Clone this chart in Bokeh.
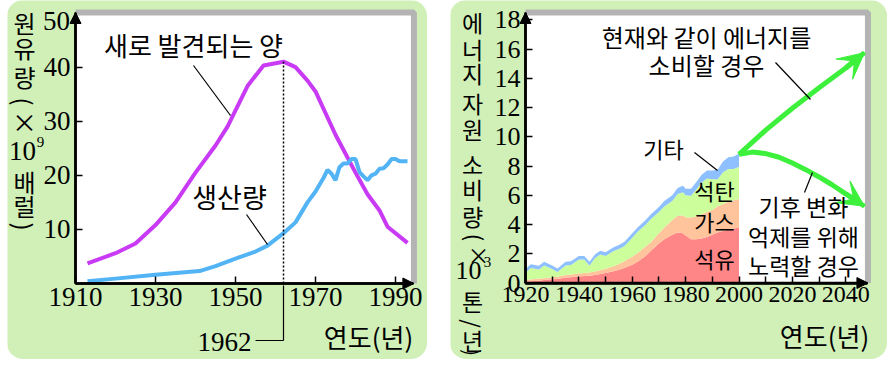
import math
from bokeh.plotting import figure
from bokeh.models import (ColumnDataSource, FixedTicker, Label, Arrow, NormalHead,
                          VeeHead, Range1d)
from bokeh.layouts import row
from bokeh.embed import file_html
from bokeh.resources import INLINE

# ---------------- data: left panel (crude oil, x10^9 barrels) ----------------
disc_years = [1913, 1920, 1925, 1930, 1935, 1940, 1945, 1948, 1950, 1953, 1957,
              1962, 1965, 1968, 1970, 1975, 1980, 1983, 1986, 1988, 1993]
disc_vals = [3.7, 5.6, 7.4, 10.8, 15.0, 20.5, 25.5, 29.0, 32.0, 36.5, 40.3,
             41.0, 40.0, 37.5, 35.5, 27.5, 20.5, 16.5, 13.5, 10.5, 7.5]
prod_years = [1913, 1920, 1930, 1941, 1945, 1950, 1955, 1958, 1962, 1965, 1968,
              1970, 1972, 1973, 1974, 1975, 1976, 1977, 1978, 1979, 1980, 1981,
              1982, 1983, 1984, 1985, 1986, 1987, 1988, 1989, 1990, 1991, 1992, 1993]
prod_vals = [0.4, 0.9, 1.6, 2.3, 3.2, 4.6, 5.9, 7.0, 9.3, 11.3, 15.0,
             17.0, 19.5, 21.0, 20.3, 19.1, 21.5, 22.2, 22.2, 23.0, 23.0, 20.6,
             19.8, 19.1, 20.0, 20.3, 21.2, 21.3, 22.0, 23.0, 23.0, 22.6, 22.6, 22.6]
peak_year = 1962
left_xticks = [1910, 1930, 1950, 1970, 1990]
left_yticks = [10, 20, 30, 40]
left_ytop_label = "50"

# ---------------- data: right panel (energy use, x10^3 t/yr) ----------------
e_years = [1920, 1922, 1925, 1927, 1930, 1932, 1935, 1937, 1940, 1942, 1944, 1946,
           1948, 1950, 1953, 1955, 1957, 1960, 1962, 1965, 1967, 1970, 1972, 1975,
           1977, 1979, 1980, 1982, 1984, 1986, 1988, 1990, 1992, 1994, 1996, 1998, 2000]
oil = [0.10, 0.12, 0.16, 0.20, 0.25, 0.27, 0.38, 0.40, 0.45, 0.48, 0.50, 0.55,
       0.62, 0.68, 0.80, 0.90, 1.02, 1.25, 1.45, 1.85, 2.20, 2.70, 3.00, 3.30,
       3.45, 3.40, 3.25, 3.00, 3.00, 3.05, 3.15, 3.30, 3.45, 3.55, 3.65, 3.72, 3.80]
gas = [0.10, 0.12, 0.14, 0.13, 0.15, 0.15, 0.17, 0.18, 0.20, 0.20, 0.22, 0.23,
       0.26, 0.29, 0.35, 0.40, 0.46, 0.55, 0.60, 0.65, 0.60, 0.70, 0.80, 1.00,
       1.15, 1.22, 1.25, 1.48, 1.55, 1.65, 1.70, 1.70, 1.80, 1.85, 1.90, 1.93, 1.95]
coal = [0.50, 0.79, 0.63, 0.87, 0.55, 0.33, 0.65, 0.65, 0.95, 0.92, 0.48, 0.92,
        1.07, 0.88, 1.03, 1.02, 1.04, 1.30, 1.45, 1.48, 1.57, 1.45, 1.43, 1.30,
        1.48, 1.59, 1.50, 1.49, 1.85, 2.18, 2.30, 2.10, 1.85, 2.18, 2.25, 2.15, 2.20]
other = [0.25, 0.25, 0.25, 0.25, 0.25, 0.25, 0.25, 0.25, 0.25, 0.25, 0.25, 0.25,
         0.25, 0.25, 0.27, 0.28, 0.28, 0.30, 0.30, 0.32, 0.33, 0.35, 0.37, 0.40,
         0.42, 0.44, 0.45, 0.48, 0.50, 0.52, 0.55, 0.60, 0.65, 0.72, 0.80, 0.85, 0.90]
proj_high_years = [2000, 2010, 2020, 2030, 2040, 2047]
proj_high = [8.8, 10.45, 11.95, 13.35, 14.7, 15.75]
proj_low_years = [2000, 2005, 2010, 2015, 2020, 2025, 2030, 2035, 2040, 2047]
proj_low = [8.8, 8.95, 8.85, 8.6, 8.2, 7.75, 7.25, 6.7, 6.1, 5.25]
right_xticks = [1920, 1940, 1960, 1980, 2000, 2020, 2040]
right_xminor = [1930, 1950, 1970, 1990, 2010, 2030]
right_yticks = [0, 2, 4, 6, 8, 10, 12, 14, 16, 18]

# ---------------- style ----------------
PANEL = "#d0f0b8"
PURPLE = "#c93af5"
BLUE = "#52b4f5"
C_OIL, C_GAS, C_COAL, C_OTHER = "#ff8686", "#ffc49c", "#ccff9c", "#8ec0ff"
GREEN = "#3cf03c"
SHADOW = "#b4b4b4"
KR = "Noto Sans CJK KR"
SERIF = "Liberation Serif"

# page geometry (observed origin of the layout on the page)
PAGE_Y0 = 3
H = 359
L_PX0, L_MARGIN, L_W = 10, 7, 420
GAP = 23
R_PX0, R_W = L_PX0 + L_W + GAP, 437
# page pixel of each origin and pixels per unit
L_ORG, L_SX, L_SY = (78, 286), 4.0, 5.41
R_ORG, R_SX, R_SY = (528, 285.5), 2.669, 14.625
L_XLIM, L_YLIM = (1910, 1994.6), (0, 50.1)
R_XLIM, R_YLIM = (1920, 2048.3), (0, 18.5)


def ranges(px0, w, org, sx, sy, x0, y0):
    xr = (x0 - (org[0] - px0) / sx, x0 + (px0 + w - org[0]) / sx)
    yr = (y0 - (PAGE_Y0 + H - org[1]) / sy, y0 + (org[1] - PAGE_Y0) / sy)
    return xr, yr


def make_mapper(org, sx, sy, x0, y0):
    def m(px, py):
        return x0 + (px - org[0]) / sx, y0 + (org[1] - py) / sy
    return m


def make_fig(w, xr, yr, xlim, ylim, xt, yt, xminor=None, xfs="27px", yfs="27px",
             margin=None):
    p = figure(width=w, height=H, x_range=Range1d(*xr), y_range=Range1d(*yr),
               output_backend="svg", toolbar_location=None, title=None,
               min_border=0)
    if margin is not None:
        p.margin = margin
    p.border_fill_color = PANEL
    p.background_fill_color = PANEL
    p.outline_line_color = None
    p.grid.grid_line_color = None
    # white plot area with a grey shadow on its top and right edges
    p.quad(left=[xlim[0]], right=[xlim[1]], bottom=[ylim[0]], top=[ylim[1]],
           fill_color="white", line_color=None)
    p.line([xlim[0], xlim[1], xlim[1]], [ylim[1], ylim[1], ylim[0]],
           line_color=SHADOW, line_width=6)
    p.xaxis.fixed_location = ylim[0]
    p.yaxis.fixed_location = xlim[0]
    p.xaxis.bounds = xlim
    p.yaxis.bounds = ylim
    p.xaxis.ticker = FixedTicker(ticks=xt, minor_ticks=xminor or [])
    p.yaxis.ticker = FixedTicker(ticks=yt)
    for ax, fs in ((p.xaxis, xfs), (p.yaxis, yfs)):
        ax.axis_line_width = 2.5
        ax.axis_line_color = "black"
        ax.major_tick_in = 7
        ax.major_tick_out = 0
        ax.major_tick_line_width = 1.5
        ax.minor_tick_in = 7
        ax.minor_tick_out = 0
        ax.minor_tick_line_width = 1.5
        ax.major_label_text_font = SERIF
        ax.major_label_text_font_size = fs
        ax.major_label_text_color = "black"
    p.xaxis.major_label_standoff = 4
    p.yaxis.major_label_standoff = 5
    if not xminor:
        p.xaxis.minor_tick_line_color = None
    p.yaxis.minor_tick_line_color = None
    for (xs, ys, xe, ye) in ((xlim[0], ylim[0], xlim[0], ylim[1]),
                             (xlim[0], ylim[0], xlim[1], ylim[0])):
        p.add_layout(Arrow(end=NormalHead(size=11, fill_color="black", line_color="black"),
                           x_start=xs, y_start=ys, x_end=xe, y_end=ye,
                           line_width=2.5, line_color="black"))
    p.styles = {"border-radius": "16px", "overflow": "hidden"}
    return p


def put(p, m, text, px, py, size="24px", font=KR, angle=0.0):
    x, y = m(px, py)
    p.add_layout(Label(x=x, y=y, text=text, text_font=font, text_font_size=size,
                       text_align="center", text_baseline="middle",
                       text_color="black", angle=angle))


def leader(p, m, a, b, width=1.2):
    x0, y0 = m(*a)
    x1, y1 = m(*b)
    p.add_layout(Arrow(end=None, x_start=x0, y_start=y0, x_end=x1, y_end=y1,
                       line_color="black", line_width=width))


ROT = -math.pi / 2

# ================= left panel =================
lxr, lyr = ranges(L_PX0, L_W, L_ORG, L_SX, L_SY, L_XLIM[0], L_YLIM[0])
Lm = make_mapper(L_ORG, L_SX, L_SY, L_XLIM[0], L_YLIM[0])
left = make_fig(L_W, lxr, lyr, L_XLIM, L_YLIM, left_xticks, left_yticks,
                margin=(0, 0, 0, L_MARGIN))
left.line(disc_years, disc_vals, line_color=PURPLE, line_width=4)
left.line(prod_years, prod_vals, line_color=BLUE, line_width=4)
left.line([peak_year, peak_year], [0, max(disc_vals)], line_color="black",
          line_width=1.5, line_dash="2 2")

put(left, Lm, left_ytop_label, 59, 23, "27px", SERIF)
put(left, Lm, "새로 발견되는 양", 196, 47, "26px")
leader(left, Lm, (196, 68), (233, 118))
put(left, Lm, "생산량", 232, 199, "27px")
leader(left, Lm, (249, 217), (270, 247))
px1962 = L_ORG[0] + (peak_year - L_XLIM[0]) * L_SX
leader(left, Lm, (px1962, 288), (px1962, 343))
leader(left, Lm, (258, 343), (px1962, 343))
put(left, Lm, str(peak_year), 227, 344, "27px", SERIF)
put(left, Lm, "연도(년)", 371, 339, "26px")

for t, x, y, s, f, a in [("원", 27, 25, "24px", KR, 0), ("유", 27, 50, "24px", KR, 0),
                         ("량", 27, 79, "24px", KR, 0), ("(", 27, 104, "24px", KR, ROT),
                         ("×", 27, 123, "25px", KR, 0), ("10", 25, 153, "27px", SERIF, 0),
                         ("9", 43, 144, "15px", SERIF, 0), ("배", 27, 184, "24px", KR, 0),
                         ("럴", 27, 208, "24px", KR, 0), (")", 27, 229, "24px", KR, ROT)]:
    put(left, Lm, t, x, y, s, f, a)

# ================= right panel =================
rxr, ryr = ranges(R_PX0, R_W, R_ORG, R_SX, R_SY, R_XLIM[0], R_YLIM[0])
Rm = make_mapper(R_ORG, R_SX, R_SY, R_XLIM[0], R_YLIM[0])
right = make_fig(R_W, rxr, ryr, R_XLIM, R_YLIM, right_xticks, right_yticks,
                 xminor=right_xminor, xfs="24px", yfs="26px")
src = ColumnDataSource(dict(year=e_years, oil=oil, gas=gas, coal=coal, other=other))
right.varea_stack(stackers=["oil", "gas", "coal", "other"], x="year",
                  color=[C_OIL, C_GAS, C_COAL, C_OTHER], source=src)
right.line(proj_high_years, proj_high, line_color=GREEN, line_width=5)
right.line(proj_low_years, proj_low, line_color=GREEN, line_width=5)
for xs, ys in ((proj_high_years, proj_high), (proj_low_years, proj_low)):
    right.add_layout(Arrow(end=VeeHead(size=26, fill_color=GREEN, line_color=GREEN),
                           x_start=xs[-2], y_start=ys[-2], x_end=xs[-1], y_end=ys[-1],
                           line_color=GREEN, line_width=5))

put(right, Rm, "현재와 같이 에너지를", 709, 39, "24px")
put(right, Rm, "소비할 경우", 709, 67, "24px")
leader(right, Rm, (778, 65), (813, 102))
put(right, Rm, "기타", 666, 150, "22px")
leader(right, Rm, (697, 155), (720, 173))
put(right, Rm, "석탄", 717, 192, "22px")
put(right, Rm, "가스", 717, 223, "22px")
put(right, Rm, "석유", 717, 260, "22px")
put(right, Rm, "기후 변화", 806, 208, "23px")
put(right, Rm, "억제를 위해", 806, 238, "23px")
put(right, Rm, "노력할 경우", 806, 267, "23px")
leader(right, Rm, (807, 195), (815, 175))
put(right, Rm, "연도(년)", 827, 338, "26px")

for t, x, y, s, f, a in [("에", 475, 24, "23px", KR, 0), ("너", 475, 51, "23px", KR, 0),
                         ("지", 475, 75, "23px", KR, 0), ("자", 475, 105, "23px", KR, 0),
                         ("원", 475, 131, "23px", KR, 0), ("소", 475, 166, "23px", KR, 0),
                         ("비", 475, 191, "23px", KR, 0), ("량", 475, 218, "23px", KR, 0),
                         ("(", 478, 240, "22px", KR, ROT), ("×", 481, 256, "22px", KR, 0),
                         ("10", 471, 273, "26px", SERIF, 0), ("3", 490, 264, "15px", SERIF, 0),
                         ("톤", 475, 303, "23px", KR, 0), ("/", 475, 326, "22px", KR, ROT),
                         ("년", 475, 342, "23px", KR, 0), (")", 475, 355, "21px", KR, ROT)]:
    put(right, Rm, t, x, y, s, f, a)

layout = row(left, right, spacing=GAP)
open("out.html", "w").write(file_html(layout, INLINE))
